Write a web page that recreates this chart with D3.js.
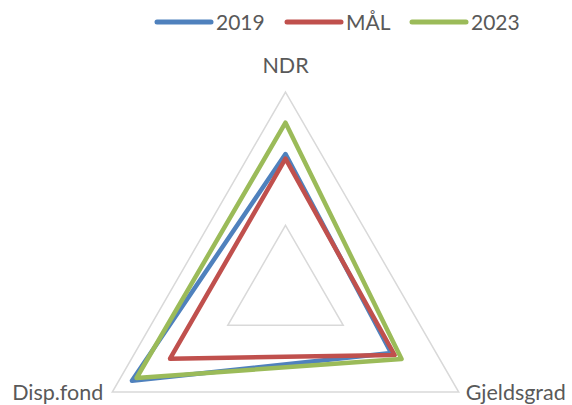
<!DOCTYPE html>
<html>
<head>
<meta charset="utf-8">
<script src="https://cdn.jsdelivr.net/npm/d3@7"></script>
<style>
  html, body { margin: 0; padding: 0; background: #fff; }
  svg { display: block; }
  text { font-family: Lato, "Open Sans", sans-serif; fill: #595959; }
</style>
</head>
<body>
<svg id="chart" width="572" height="405"></svg>
<script>
// Radar axes, clockwise from the top
const axes = ["NDR", "Gjeldsgrad", "Disp.fond"];
const seriesNames = ["2019", "MÅL", "2023"];
const values2019 = [0.535, 0.415, 0.83];
const valuesMal  = [0.50, 0.445, 0.50];
const values2023 = [0.77, 0.505, 0.79];
const gridLevels = [0, 1];
const axisMin = -0.5, axisMax = 1;

const seriesValues = [values2019, valuesMal, values2023];
const colors = ["#4f81bd", "#c0504d", "#9bbb59"];

const width = 572, height = 405;
const cx = 285.5, cy = 292, R = 200;

const svg = d3.select("#chart");
const r = d3.scaleLinear().domain([axisMin, axisMax]).range([0, R]);
const angle = d3.scalePoint().domain(axes).range([-Math.PI / 2, -Math.PI / 2 + 2 * Math.PI * (axes.length - 1) / axes.length]);

const pt = (axis, v) => {
  const a = angle(axis);
  return [cx + r(v) * Math.cos(a), cy + r(v) * Math.sin(a)];
};

const line = d3.line().curve(d3.curveLinearClosed);

// grid polygons
svg.append("g").selectAll("path")
  .data(gridLevels.concat([axisMax]).filter((d, i, arr) => arr.indexOf(d) === i))
  .join("path")
  .attr("d", lv => line(axes.map(ax => pt(ax, lv))))
  .attr("fill", "none")
  .attr("stroke", "#d9d9d9")
  .attr("stroke-width", 1.5);

// series
svg.append("g").selectAll("path")
  .data(seriesValues)
  .join("path")
  .attr("d", vals => line(axes.map((ax, i) => pt(ax, vals[i]))))
  .attr("fill", "none")
  .attr("stroke", (d, i) => colors[i])
  .attr("stroke-width", 4.5)
  .attr("stroke-linejoin", "round");

// axis labels
const labelG = svg.append("g").style("font-size", "21.5px");
const [nx, ny] = pt("NDR", axisMax);
labelG.append("text").attr("x", nx).attr("y", ny - 19).attr("text-anchor", "middle").text("NDR");
const [gx, gy] = pt("Gjeldsgrad", axisMax);
labelG.append("text").attr("x", gx + 7).attr("y", gy + 8).attr("text-anchor", "start").text("Gjeldsgrad");
const [dx, dy] = pt("Disp.fond", axisMax);
labelG.append("text").attr("x", dx - 9).attr("y", dy + 8).attr("text-anchor", "end").text("Disp.fond");

// legend
const legendX = [157, 287, 412];
const legend = svg.append("g").selectAll("g")
  .data(seriesNames)
  .join("g")
  .attr("transform", (d, i) => `translate(${legendX[i]},22)`);
legend.append("line")
  .attr("x1", 0).attr("x2", 54).attr("y1", 0).attr("y2", 0)
  .attr("stroke", (d, i) => colors[i])
  .attr("stroke-width", 5)
  .attr("stroke-linecap", "round");
legend.append("text")
  .attr("x", 59).attr("y", 8)
  .style("font-size", "21px")
  .text(d => d);
</script>
</body>
</html>
